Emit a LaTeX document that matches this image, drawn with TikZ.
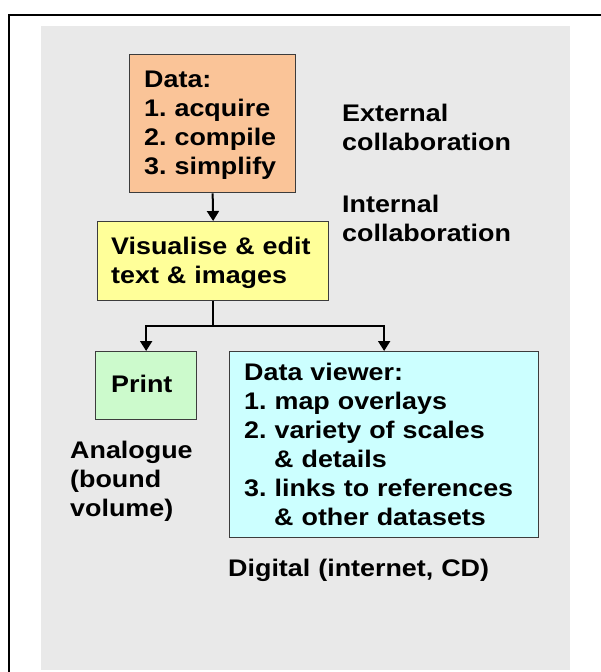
\documentclass[tikz,border=0pt]{standalone}
\usepackage{fontspec}
\newfontfamily\labfont{Liberation Sans}[FakeStretch=1.12]
\usetikzlibrary{arrows.meta}
\definecolor{bggray}{RGB}{233,233,233}
\definecolor{peach}{RGB}{250,196,152}
\definecolor{paleyellow}{RGB}{255,255,153}
\definecolor{palegreen}{RGB}{204,250,204}
\definecolor{palecyan}{RGB}{204,255,255}
\definecolor{boxline}{RGB}{60,60,60}
\frenchspacing
\tikzset{
  box/.style={draw=boxline, line width=1.3pt, anchor=north west, inner sep=0pt},
  txt/.style={anchor=base west, inner sep=0pt, align=left, text width=#1,
    font=\labfont\bfseries\fontsize{24pt}{29pt}\selectfont},
  txt/.default=300pt,
  conn/.style={line width=2pt, -{Triangle[width=12pt,length=10pt]}},
  plainconn/.style={line width=2pt}
}
\begin{document}
\begin{tikzpicture}[x=1pt,y=-1pt]
\useasboundingbox (0,0) rectangle (600,672);
\fill[white] (0,0) rectangle (600,672);
\draw[line width=1.6pt] (9,690) -- (9,15) -- (620,15);
\fill[bggray] (41,26) rectangle (570,670);
% boxes
\node[box, fill=peach, minimum width=166pt, minimum height=138pt] (data) at (129,54) {};
\node[box, fill=paleyellow, minimum width=231pt, minimum height=79pt] (vis) at (97,221) {};
\node[box, fill=palegreen, minimum width=101pt, minimum height=68pt] (print) at (95,351) {};
\node[box, fill=palecyan, minimum width=309pt, minimum height=186pt] (viewer) at (229,351) {};
% box texts
\node[txt] (dataT) at (144,87) {Data:\\1. acquire\\2. compile\\3. simplify};
\node[txt] (visT) at (111,254) {Visualise \& edit\\text \& images};
\node[txt] (printT) at (111,392) {Print};
\node[txt] (viewerT) at (244,380) {Data viewer:\\1. map overlays\\2. variety of scales\\\hspace*{30pt}\& details\\3. links to references\\\hspace*{30pt}\& other datasets};
% side labels
\node[txt] (ext) at (342,121) {External\\collaboration};
\node[txt] (int) at (342,212) {Internal\\collaboration};
\node[txt] (ana) at (70,458) {Analogue\\(bound\\volume)};
\node[txt] (dig) at (228,576) {Digital (internet, CD)};
% connectors
\draw[conn] (data.south) -- (vis.north);
\draw[plainconn] (vis.south) -- ++(0,25) coordinate (split);
\draw[conn] (split) -| (print.north);
\draw[conn] (split) -| (viewer.north);
\end{tikzpicture}
\end{document}
